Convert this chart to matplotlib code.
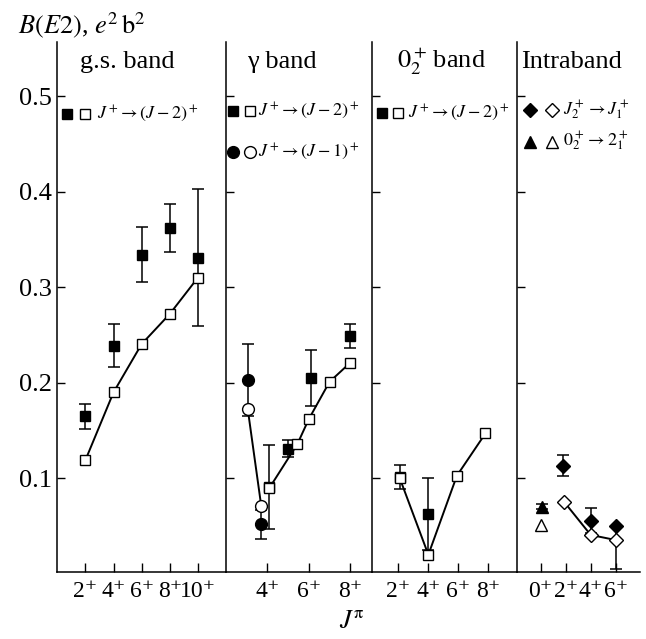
import matplotlib
matplotlib.use("Agg")
import matplotlib.pyplot as plt

plt.rcParams["font.family"] = ["Liberation Serif", "DejaVu Serif"]
plt.rcParams["mathtext.fontset"] = "stix"

# ---- ground-state band: J+ -> (J-2)+ ----
gs_J = [2, 4, 6, 8, 10]
gs_exp = [0.165, 0.239, 0.334, 0.362, 0.331]
gs_err = [0.013, 0.023, 0.029, 0.025, 0.072]
gs_th = [0.119, 0.190, 0.2405, 0.272, 0.310]

# ---- gamma band ----
gam_sq_exp_J = [4.1, 5.0, 6.1, 8.0]
gam_sq_exp = [0.091, 0.131, 0.205, 0.249]
gam_sq_err = [0.044, 0.009, 0.029, 0.0125]
gam_sq_th_J = [4.1, 5.45, 6.0, 7.0, 8.0]
gam_sq_th = [0.090, 0.136, 0.162, 0.201, 0.221]
gam_ci_J = [3.05, 3.7]
gam_ci_exp = [0.203, 0.052]
gam_ci_err = [0.038, 0.0152]
gam_ci_th = [0.1725, 0.0713]

# ---- 0_2+ band ----
b0_exp_J = [2.1, 4.0]
b0_exp = [0.101, 0.0626]
b0_err = [0.0127, 0.0374]
b0_th_J = [2.1, 4.0, 5.9, 7.8]
b0_th = [0.100, 0.020, 0.1027, 0.147]

# ---- intraband ----
tri_exp_J = [0.08]
tri_exp = [0.0703]
tri_err = [0.0025]
tri_th_J = [0.0]
tri_th = [0.0511]
dia_exp_J = [1.8, 4.0, 6.0]
dia_exp = [0.1132, 0.0556, 0.0501]
dia_err_lo = [0.011, 0.013, 0.045]
dia_err_hi = [0.011, 0.013, 0.0]
dia_th_J = [1.9, 4.0, 6.0]
dia_th = [0.0749, 0.0407, 0.0354]

# ---- axes layout ----
panel_titles = ["g.s. band", "\u03b3 band", r"$0_2^+\,$band", "Intraband"]
panel_ticks = [[2, 4, 6, 8, 10], [4, 6, 8], [2, 4, 6, 8], [0, 2, 4, 6]]
panel_xlims = [(0.0, 12.0), (2.0, 9.05), (0.25, 9.9), (-1.9, 7.95)]
yticks = [0.1, 0.2, 0.3, 0.4, 0.5]
ylim = (0.0016, 0.557)

W, H = 646, 639
edges_px = [57.3, 226, 372, 517, 640]
top_px, bot_px = 41.7, 572.3

fig = plt.figure(figsize=(W / 100, H / 100), dpi=100)
axes = []
for i in range(4):
    x0 = edges_px[i] / W
    w = (edges_px[i + 1] - edges_px[i]) / W
    ax = fig.add_axes([x0, 1 - bot_px / H, w, (bot_px - top_px) / H])
    ax.set_xlim(*panel_xlims[i])
    ax.set_ylim(*ylim)
    for s in ("top", "right"):
        ax.spines[s].set_visible(False)
    for s in ("left", "bottom"):
        ax.spines[s].set_linewidth(1.1)
    ax.set_yticks(yticks)
    ax.set_xticks(panel_ticks[i])
    ax.set_xticklabels([f"{t}\u207a" for t in panel_ticks[i]])
    ax.tick_params(axis="both", direction="in", width=1.0, labelsize=19)
    ax.tick_params(axis="x", labelsize=17)
    ax.tick_params(axis="y", length=6)
    ax.tick_params(axis="x", length=6.5, pad=6)
    if i == 0:
        ax.set_yticklabels([f"{v:.1f}" for v in yticks])
        ax.tick_params(axis="y", pad=4)
    else:
        ax.set_yticklabels([])
    ax.patch.set_alpha(0)
    axes.append(ax)

lw = 1.4
ms_sq = 7.5
eb_kw = dict(ecolor="black", elinewidth=1.1, capsize=4.6, capthick=1.1, zorder=2)

# g.s. band
ax = axes[0]
ax.errorbar(gs_J, gs_exp, yerr=gs_err, fmt="s", color="black", ms=ms_sq, **eb_kw)
ax.plot(gs_J, gs_th, "-s", color="black", lw=lw, ms=ms_sq, mfc="white", mec="black", mew=1.0, zorder=3)

# gamma band
ax = axes[1]
ax.errorbar(gam_sq_exp_J, gam_sq_exp, yerr=gam_sq_err, fmt="s", color="black", ms=ms_sq, **eb_kw)
ax.errorbar(gam_ci_J, gam_ci_exp, yerr=gam_ci_err, fmt="o", color="black", ms=8.5, **eb_kw)
ax.plot(gam_sq_th_J, gam_sq_th, "-s", color="black", lw=lw, ms=ms_sq, mfc="white", mec="black", mew=1.0, zorder=3)
ax.plot(gam_ci_J, gam_ci_th, "-o", color="black", lw=lw, ms=8.5, mfc="white", mec="black", mew=1.0, zorder=3)

# 0_2+ band
ax = axes[2]
ax.plot(b0_th_J, b0_th, "-s", color="black", lw=lw, ms=ms_sq, mfc="white", mec="black", mew=1.0, zorder=3)
ax.errorbar(b0_exp_J, b0_exp, yerr=b0_err, fmt="s", color="black", ms=ms_sq, **eb_kw)

# intraband
ax = axes[3]
ax.errorbar(tri_exp_J, tri_exp, yerr=tri_err, fmt="^", color="black", ms=8.5, **eb_kw)
ax.plot(tri_th_J, tri_th, "^", color="black", ms=8.5, mfc="white", mec="black", mew=1.0, zorder=3)
ax.errorbar(dia_exp_J, dia_exp, yerr=[dia_err_lo, dia_err_hi], fmt="D", color="black", ms=7.5, **eb_kw)
ax.plot(dia_th_J, dia_th, "-D", color="black", lw=lw, ms=7.5, mfc="white", mec="black", mew=1.0, zorder=3)

# ---- in-panel keys ----
def key(ax, fx, ox, tx, fy, marker, label, ms=7.5):
    ax.plot([fx], [fy], marker, color="black", ms=ms, transform=ax.transAxes, clip_on=False)
    ax.plot([ox], [fy], marker, ms=ms, mfc="white", mec="black", mew=1.0,
            transform=ax.transAxes, clip_on=False)
    ax.text(tx, fy, label, transform=ax.transAxes, fontsize=13, va="center", ha="left")

lab2 = r"$J^+\!\rightarrow(J-2)^+$"
lab1 = r"$J^+\!\rightarrow(J-1)^+$"
key(axes[0], 0.059, 0.164, 0.234, 0.8637, "s", lab2)
key(axes[1], 0.045, 0.164, 0.221, 0.870, "s", lab2)
key(axes[1], 0.045, 0.164, 0.221, 0.7927, "o", lab1, ms=8.5)
key(axes[2], 0.067, 0.181, 0.250, 0.866, "s", lab2)
key(axes[3], 0.106, 0.282, 0.376, 0.871, "D", r"$J_2^+\rightarrow J_1^+$")
key(axes[3], 0.106, 0.282, 0.376, 0.8115, "^", r"$0_2^+\rightarrow 2_1^+$", ms=8.5)

# ---- panel titles ----
title_cx = [127.5, 282, 441.5, 572]
for t, cx in zip(panel_titles, title_cx):
    fig.text(cx / W, 1 - 61.7 / H, t, fontsize=19, ha="center", va="center")

fig.text(18 / W, 1 - 25 / H, r"$B(E2)$, $e^2\,\mathrm{b}^2$", fontsize=19, ha="left", va="center")
fig.text(352 / W, 1 - 622 / H, r"$J^{\mathrm{\pi}}$", fontsize=19, ha="center", va="center")

fig.savefig("out.png", dpi=100)
